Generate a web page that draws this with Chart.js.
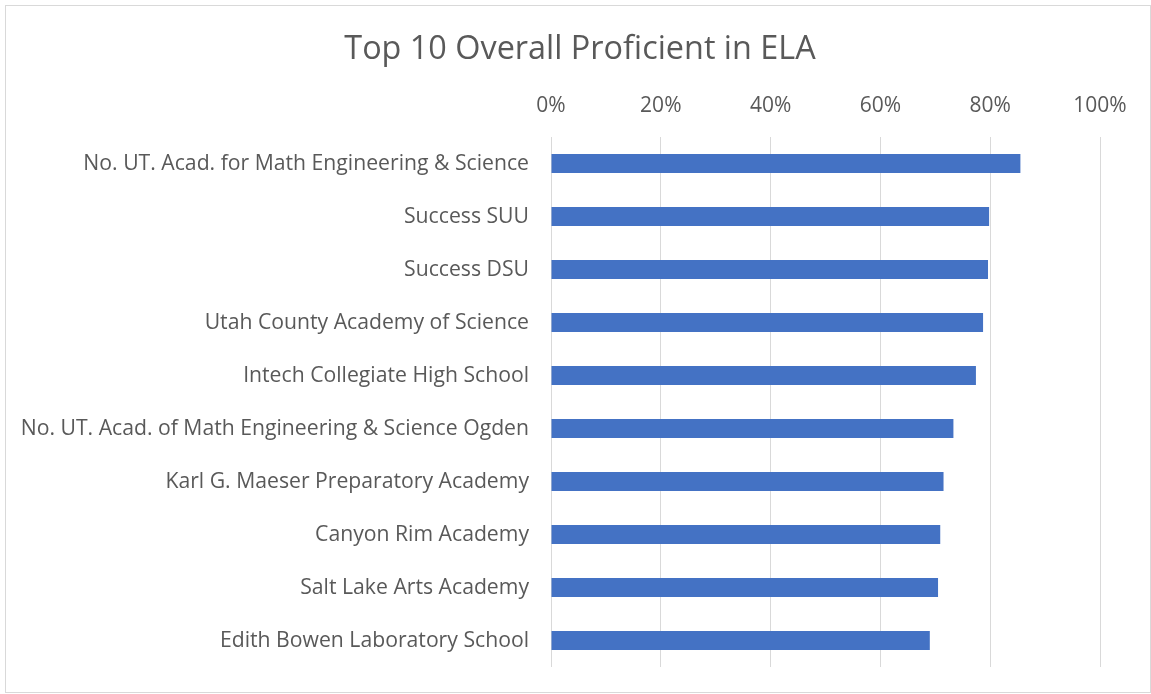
<!DOCTYPE html>
<html><head><meta charset="utf-8">
<script src="https://cdn.jsdelivr.net/npm/chart.js@4/dist/chart.umd.min.js"></script>
<style>
html,body{margin:0;padding:0;background:#fff;}
#wrap{position:absolute;left:0;top:0;width:1151px;height:694px;}
#frame{position:absolute;left:5px;top:5px;width:1144px;height:686px;border:1px solid #d9d9d9;pointer-events:none;}
</style></head>
<body>
<div id="wrap"><canvas id="c" width="1151" height="694"></canvas></div>
<div id="frame"></div>
<script>
const categories = [
  "No. UT. Acad. for Math Engineering & Science",
  "Success SUU",
  "Success DSU",
  "Utah County Academy of Science",
  "Intech Collegiate High School",
  "No. UT. Acad. of Math Engineering & Science Ogden",
  "Karl G. Maeser Preparatory Academy",
  "Canyon Rim Academy",
  "Salt Lake Arts Academy",
  "Edith Bowen Laboratory School"
];
const proficient = [85.5, 79.8, 79.6, 78.7, 77.4, 73.3, 71.5, 70.9, 70.5, 69.0];
const tickValues = [0, 20, 40, 60, 80, 100];
const FONT = "Open Sans";
new Chart(document.getElementById('c'), {
  type: 'bar',
  data: { labels: categories, datasets: [{ data: proficient, backgroundColor: '#4472C4', borderWidth: 0, barPercentage: 0.36, categoryPercentage: 1, yAxisID: 'y' }] },
  options: {
    indexAxis: 'y', responsive: false, animation: false,
    layout: { padding: { left: 9, right: 0, top: 0, bottom: 27 } },
    plugins: {
      legend: { display: false }, tooltip: { enabled: false },
      title: { display: true, text: 'Top 10 Overall Proficient in ELA', color: '#595959',
        font: { family: FONT, size: 32.4, weight: 'normal' }, padding: { top: 30.6, bottom: 0 } }
    },
    scales: {
      x: { position: 'top', min: 0, max: 100,
        afterBuildTicks: s => { s.ticks = tickValues.map(v => ({ value: v })); },
        afterFit: s => { s.height = 67.5; s.paddingLeft = 0; s.paddingRight = 0; },
        ticks: { callback: v => v + '%', color: '#595959', font: { family: FONT, size: 21 }, padding: 18 },
        grid: { color: '#d9d9d9', lineWidth: 1, drawTicks: false }, border: { display: false } },
      y: { afterFit: s => { s.width = 542; s.paddingTop = 0; s.paddingBottom = 0; },
        ticks: { color: '#595959', font: { family: FONT, size: 21.2 }, padding: 22 },
        grid: { display: false, drawTicks: false }, border: { display: false } },
      yRight: { type: 'category', position: 'right', labels: [''], afterFit: s => { s.width = 51; s.paddingTop = 0; s.paddingBottom = 0; },
        ticks: { display: false }, grid: { display: false, drawTicks: false }, border: { display: false } }
    }
  }
});
</script>
</body></html>
